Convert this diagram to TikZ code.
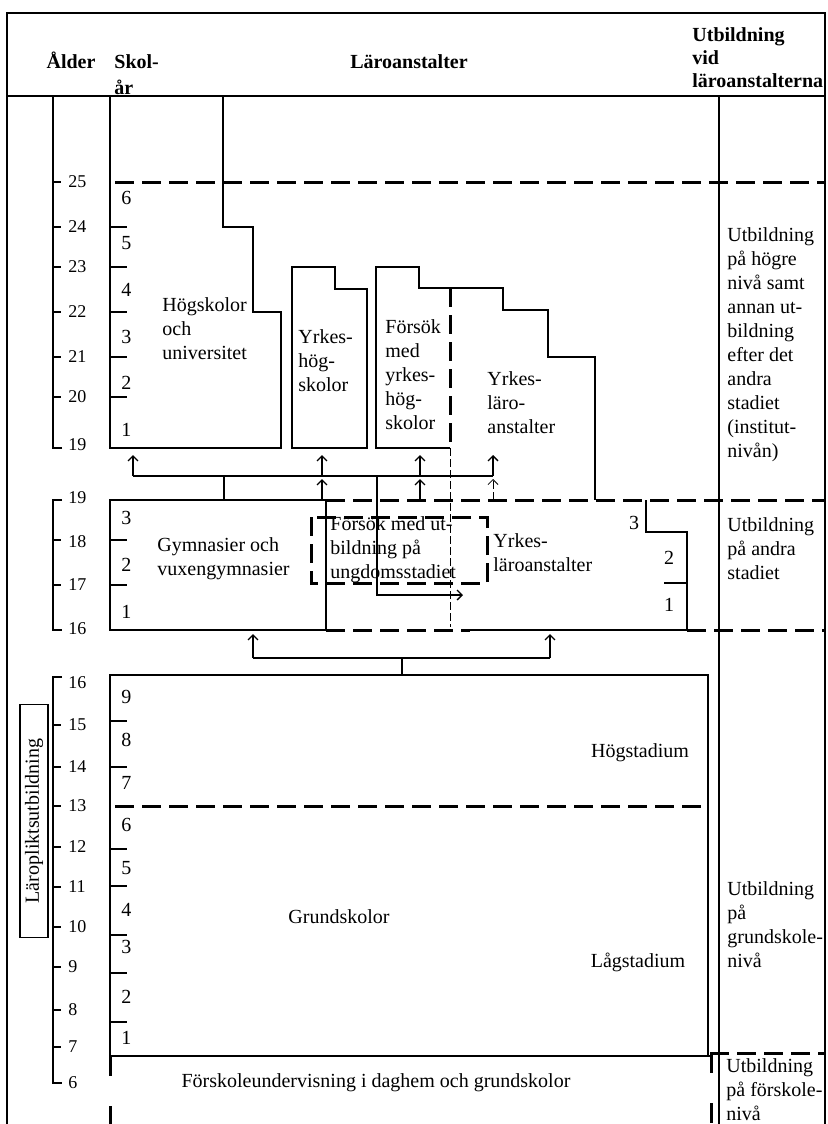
\documentclass[tikz,border=0pt]{standalone}
\usepackage{fontspec}
\setmainfont{Liberation Serif}
\usetikzlibrary{arrows.meta,positioning}

\begin{document}
\begin{tikzpicture}[x=0.5pt, y=-0.5pt,
    every node/.style={inner sep=0pt, font=\fontsize{10}{12}\selectfont},
    thinline/.style={line width=0.65pt},
    bigdash/.style={line width=1.5pt, dash pattern=on 9.5pt off 4pt},
    gapdash/.style={line width=1.5pt, dash pattern=on 10pt off 15pt},
    lightdash/.style={line width=0.4pt, dash pattern=on 4pt off 1.5pt},
    uparrow/.style={line width=0.65pt, -{Straight Barb[length=2.5pt,width=5pt]}},
    lefttext/.style={anchor=west, align=left},
    agelabel/.style={anchor=west, font=\fontsize{9}{11}\selectfont},
    hdr/.style={font=\fontsize{10}{11.5}\selectfont\bfseries}]
  % Define dimensions
  \def\W{827}
  \def\H{1124}
  \def\Lx{110}  % left edge of the school boxes
  \def\Rx{719}  % right column line
  \def\Ax{53}   % age axis
  \useasboundingbox (0,0) rectangle (\W,\H);

  % Frame and header
  \draw[thinline] (7,\H) -- (7,13) -- (825,13) -- (825,\H);
  \draw[thinline] (7,96) -- (825,96);
  \draw[thinline] (\Rx,96) -- (\Rx,\H);
  \node[hdr] (hAge) at (71,60) {Ålder};
  \node[lefttext, font=\fontsize{10}{13}\selectfont\bfseries] (hYear) at (114,75) {Skol-\\år};
  \node[hdr] (hInst) at (409,62) {Läroanstalter};
  \node[hdr, lefttext] (hLevel) at (692,58) {Utbildning\\vid\\läroanstalterna};

  % Age axis
  \draw[thinline] (62,448) -- (\Ax,448) -- (\Ax,96);
  \draw[thinline] (62,500) -- (\Ax,500) -- (\Ax,630) -- (62,630);
  \draw[thinline] (62,677) -- (\Ax,677) -- (\Ax,1083) -- (62,1083);
  \foreach \y in {182,227,267,312,357,397,540,585,725,767,806,847,887,927,967,1010,1047}
    \draw[thinline] (\Ax,\y) -- (61,\y);
  \foreach \a/\y in {25/182,24/227,23/267,22/312,21/357,20/397,19/445}
    \node[agelabel] (ageU\a) at (68,\y) {\a};
  \foreach \a/\y in {19/498,18/542,17/585,16/629}
    \node[agelabel] (ageM\a) at (68,\y) {\a};
  \foreach \a/\y in {16/683,15/725,14/767,13/806,12/847,11/887,10/927,9/967,8/1010,7/1047,6/1083}
    \node[agelabel] (ageL\a) at (68,\y) {\a};

  % Higher level
  \draw[bigdash] (115,182) -- (825,182);
  \draw[thinline] (\Lx,96) -- (\Lx,448) -- (281,448) -- (281,312) -- (253,312)
    -- (253,227) -- (223,227) -- (223,96);
  \foreach \y in {227,267,312,357,397}
    \draw[thinline] (\Lx,\y) -- (127,\y);
  \foreach \n/\y in {6/198,5/243,4/290,3/337,2/383,1/430}
    \node[anchor=west] (yrU\n) at (121,\y) {\n};
  \node[lefttext] (univ) at (162,329) {Högskolor\\och\\universitet};

  \draw[thinline] (292,448) -- (292,267) -- (335,267) -- (335,289) -- (367,289)
    -- (367,448) -- cycle;
  \node[lefttext] (yhs) at (298,361) {Yrkes-\\hög-\\skolor};

  \draw[thinline] (450,448) -- (376,448) -- (376,267) -- (419,267) -- (419,288) -- (450,288);
  \draw[bigdash] (450,288) -- (450,448);
  \draw[lightdash] (450,448) -- (450,627);
  \node[lefttext] (tryhs) at (385,375) {Försök\\med\\yrkes-\\hög-\\skolor};

  \draw[thinline] (450,288) -- (503,288) -- (503,310) -- (548,310) -- (548,357)
    -- (595,357) -- (595,500);
  \node[lefttext] (vocU) at (487,403) {Yrkes-\\läro-\\anstalter};

  \node[lefttext] (lvlHigh) at (727,345)
    {Utbildning\\på högre\\nivå samt\\annan ut-\\bildning\\efter det\\andra\\stadiet\\(institut-\\nivån)};

  % Arrows up to the higher level
  \coordinate (busU) at (133,476);
  \coordinate (busE) at (493,476);
  \coordinate (gymT) at (224,500);
  \coordinate (tryB) at (377,595);
  \coordinate (tryE) at (463,595);
  \draw[thinline] (busU) -- (busE);
  \draw[thinline] (gymT) -- (busU -| gymT);
  \foreach \x in {133,322,420,493}
    \draw[uparrow] (\x,476) -- (\x,455);
  \foreach \x in {322,420}
    \draw[uparrow] (\x,500) -- (\x,479);
  \draw[uparrow, lightdash] (493,500) -- (493,479);
  \draw[thinline, -{Straight Barb[length=2.5pt,width=5pt]}] (busU -| tryB) -- (tryB) -- (tryE);

  % Upper secondary level
  \draw[bigdash] (326,500) -- (825,500);
  \draw[thinline] (\Lx,500) rectangle (326,630);
  \foreach \y in {540,585}
    \draw[thinline] (\Lx,\y) -- (127,\y);
  \foreach \n/\y in {3/518,2/565,1/612}
    \node[anchor=west] (yrM\n) at (121,\y) {\n};
  \node[lefttext] (gym) at (157,559) {Gymnasier och\\vuxengymnasier};

  \draw[bigdash] (326,630) -- (470,630);
  \draw[thinline] (470,630) -- (687,630);
  \draw[bigdash] (687,630) -- (825,630);
  \draw[thinline] (646,500) -- (646,532) -- (687,532) -- (687,630);
  \draw[thinline] (664,583) -- (687,583);
  \node (yrV3) at (634,523) {3};
  \node (yrV2) at (669,558) {2};
  \node (yrV1) at (669,605) {1};

  \draw[bigdash] (311,517) rectangle (487,583);
  \node[lefttext] (tryYouth) at (330,550) {Försök med ut-\\bildning på\\ungdomsstadiet};
  \node[lefttext] (vocM) at (493,553) {Yrkes-\\läroanstalter};
  \node[lefttext] (lvlSec) at (727,549) {Utbildning\\på andra\\stadiet};

  % Arrows up from the comprehensive school
  \coordinate (busL) at (253,658);
  \coordinate (busR) at (550,658);
  \coordinate (grT) at (402,675);
  \draw[thinline] (busL) -- (busR);
  \draw[thinline] (grT) -- (busL -| grT);
  \draw[uparrow] (busL) -- ++(0,-24);
  \draw[uparrow] (busR) -- ++(0,-24);

  % Comprehensive school
  \draw[thinline] (\Lx,1056) -- (\Lx,675) -- (708,675) -- (708,1056);
  \draw[bigdash] (115,806) -- (708,806);
  \foreach \y in {721,767,849,886,935,973,1022}
    \draw[thinline] (\Lx,\y) -- (127,\y);
  \foreach \n/\y in {9/697,8/740,7/783,6/825,5/868,4/910,3/947,2/997,1/1038}
    \node[anchor=west] (yrL\n) at (121,\y) {\n};
  \node (upper) at (640,753) {Högstadium};
  \node (compr) at (339,917) {Grundskolor};
  \node (lower) at (638,962) {Lågstadium};
  \node[lefttext] (lvlComp) at (727,925) {Utbildning\\på\\grundskole-\\nivå};

  \node[draw, thinline, rotate=90, minimum width=116.5pt, minimum height=14pt] (duty)
    at (34,821) {Läropliktsutbildning};

  % Pre-school
  \draw[thinline] (\Lx,1056) -- (710,1056);
  \draw[bigdash] (710,1053) -- (825,1053);
  \draw[gapdash] (\Lx,1056) -- (\Lx,\H);
  \draw[gapdash] (711,1053) -- (711,\H);
  \node (presch) at (376,1083) {Förskoleundervisning i daghem och grundskolor};
  \node[lefttext] (lvlPre) at (726,1090) {Utbildning\\på förskole-\\nivå};

\end{tikzpicture}
\end{document}
